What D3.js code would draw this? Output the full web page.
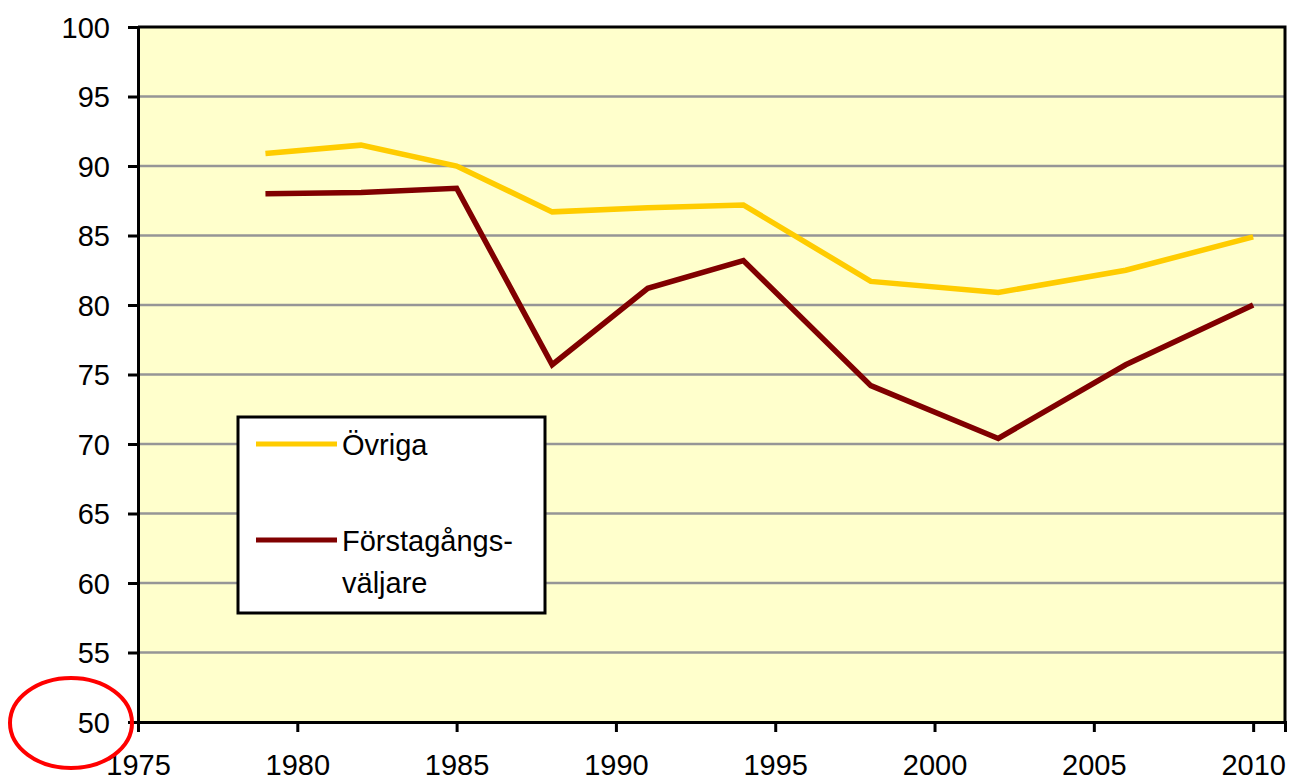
<!DOCTYPE html>
<html>
<head>
<meta charset="utf-8">
<script src="https://cdn.jsdelivr.net/npm/d3@7"></script>
<style>
  body { margin: 0; background: #fff; }
  svg text { font-family: "Liberation Sans", Arial, sans-serif; font-size: 29px; fill: #000; }
</style>
</head>
<body>
<div id="chart"></div>
<script>
// election years and turnout (%)
const years = [1979, 1982, 1985, 1988, 1991, 1994, 1998, 2002, 2006, 2010];
const ovriga = [90.9, 91.5, 90.0, 86.7, 87.0, 87.2, 81.7, 80.9, 82.5, 84.9];
const forstagangs = [88.0, 88.1, 88.4, 75.7, 81.2, 83.2, 74.2, 70.4, 75.7, 80.0];
const xTicks = [1975, 1980, 1985, 1990, 1995, 2000, 2005, 2010];
const yTicks = [50, 55, 60, 65, 70, 75, 80, 85, 90, 95, 100];

const width = 1292, height = 782;
const margin = {top: 27, left: 138, right: 7, bottom: 60};

const svg = d3.select("#chart").append("svg")
    .attr("width", width)
    .attr("height", height);

const x = d3.scaleLinear()
    .domain([1975, 2011])
    .range([margin.left, width - margin.right]);

const y = d3.scaleLinear()
    .domain([50, 100])
    .range([height - margin.bottom, margin.top]);

// plot background
svg.append("rect")
    .attr("x", x(1975))
    .attr("y", y(100))
    .attr("width", x(2011) - x(1975))
    .attr("height", y(50) - y(100))
    .attr("fill", "#FFFFCC");

// gridlines
svg.append("g")
    .selectAll("line")
    .data(yTicks.filter(d => d > 50 && d < 100))
    .enter()
    .append("line")
    .attr("x1", x(1975))
    .attr("x2", x(2011))
    .attr("y1", d => y(d))
    .attr("y2", d => y(d))
    .attr("stroke", "#969696")
    .attr("stroke-width", 2.5);

// top and right border
svg.append("path")
    .attr("d", `M${x(1975)},${y(100)}H${x(2011)}V${y(50)}`)
    .attr("fill", "none")
    .attr("stroke", "#000")
    .attr("stroke-width", 3);

// axes
const yAxis = svg.append("g")
    .attr("transform", `translate(${x(1975)},0)`)
    .call(d3.axisLeft(y).tickValues(yTicks).tickSize(10).tickPadding(18));

const xAxis = svg.append("g")
    .attr("transform", `translate(0,${y(50)})`)
    .call(d3.axisBottom(x).tickValues(xTicks).tickFormat(d3.format("d")).tickSize(10).tickPadding(22));

[yAxis, xAxis].forEach(function(ax) {
    ax.select(".domain").attr("stroke", "#000").attr("stroke-width", 3);
    ax.selectAll(".tick line").attr("stroke", "#000").attr("stroke-width", 3);
    ax.selectAll("text").attr("font-size", null).attr("font-family", null);
});
yAxis.selectAll("text").attr("dy", "0.36em");

// series lines
const line = d3.line()
    .x((d, i) => x(years[i]))
    .y(d => y(d));

svg.append("path")
    .datum(ovriga)
    .attr("d", line)
    .attr("fill", "none")
    .attr("stroke", "#FFCC00")
    .attr("stroke-width", 5.5);

svg.append("path")
    .datum(forstagangs)
    .attr("d", line)
    .attr("fill", "none")
    .attr("stroke", "#800000")
    .attr("stroke-width", 5.5);

// legend
const legend = svg.append("g").attr("class", "legend");

legend.append("rect")
    .attr("x", 238)
    .attr("y", 417)
    .attr("width", 307)
    .attr("height", 196)
    .attr("fill", "#fff")
    .attr("stroke", "#000")
    .attr("stroke-width", 3);

const legendItems = [
    {color: "#FFCC00", lines: ["Övriga"], y: 444},
    {color: "#800000", lines: ["Förstagångs-", "väljare"], y: 540}
];

legendItems.forEach(function(item) {
    legend.append("line")
        .attr("x1", 256).attr("x2", 337)
        .attr("y1", item.y).attr("y2", item.y)
        .attr("stroke", item.color)
        .attr("stroke-width", 5);
    item.lines.forEach(function(t, i) {
        legend.append("text")
            .attr("x", 342)
            .attr("y", item.y + 11 + i * 42)
            .text(t);
    });
});

// red highlight ellipse
svg.append("ellipse")
    .attr("cx", 71)
    .attr("cy", 723)
    .attr("rx", 61)
    .attr("ry", 45)
    .attr("fill", "none")
    .attr("stroke", "#FF0000")
    .attr("stroke-width", 4);
</script>
</body>
</html>
